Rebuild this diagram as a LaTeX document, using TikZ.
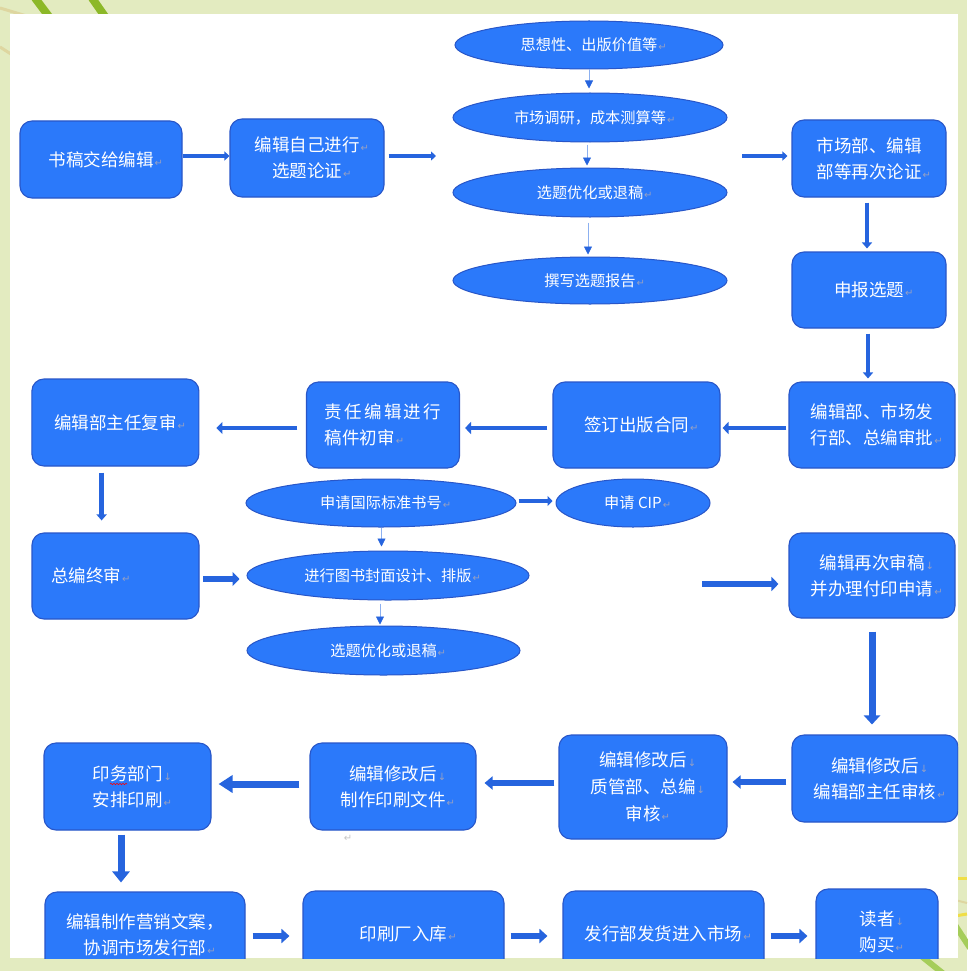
\documentclass[tikz,border=0pt]{standalone}
\usepackage{fontspec}
\newfontfamily\cjk{Noto Sans CJK SC}
\newfontfamily\mkfont{DejaVu Sans}
\usetikzlibrary{arrows.meta,shapes.geometric,calc,decorations.pathmorphing}
\definecolor{bg}{RGB}{227,235,192}
\definecolor{boxfill}{RGB}{43,121,250}
\definecolor{boxline}{RGB}{40,86,200}
\definecolor{arrblue}{RGB}{38,100,222}
\definecolor{thinline}{RGB}{140,176,240}
\definecolor{mkgray}{RGB}{150,160,195}
\definecolor{stem}{RGB}{140,184,40}
\definecolor{paleline}{RGB}{222,214,160}
\definecolor{yband}{RGB}{240,222,70}
\definecolor{lstem}{RGB}{165,205,90}
\newcommand\parmk{\rlap{\hspace{1pt}\mkfont\fontsize{10}{10}\selectfont\textcolor{mkgray}{↵}}}
\newcommand\dnmk{\rlap{\hspace{1pt}\mkfont\fontsize{10}{10}\selectfont\textcolor{mkgray}{↓}}}
\begin{document}
\begin{tikzpicture}[x=1pt,y=-1pt,
  box/.style={draw=boxline, line width=1.1pt, fill=boxfill, rounded corners=12pt, text=white, align=center, inner sep=0pt, font=\cjk\fontsize{17.5}{26}\selectfont},
  ell/.style={ellipse, draw=boxline, line width=1pt, fill=boxfill, text=white, inner sep=0pt, font=\cjk\fontsize{15.2}{20}\selectfont},
  thinarr/.style={draw=thinline, line width=0.7pt, -{Triangle[length=8pt,width=8pt,color=arrblue]}},
  blk/.style n args={3}{draw=arrblue, line width=#1, -{Triangle[length=#2,width=#3]}}
]
\useasboundingbox (0,0) rectangle (967,971);
\fill[bg] (0,0) rectangle (967,971);
% corner decorations
\draw[paleline, line width=3pt] (0,8) -- (40,20);
\draw[paleline, line width=3pt] (0,47) -- (14,56);
\draw[stem, line width=8pt] (35,-2) -- (50,18);
\draw[stem, line width=8pt] (92,-2) -- (106,18);
\draw[yband, line width=3pt] (955,878) -- (967,878);
\draw[yband, line width=3pt] (955,916) -- (967,914);
\draw[lstem, line width=6pt] (955,925) -- (970,948);
\draw[lstem, line width=6pt] (920,955) -- (945,975);
\draw[paleline, line width=2pt] (955,900) -- (967,903);
\fill[white] (10,14) rectangle (958,958);
\begin{scope}
\clip (10,14) rectangle (958,958);
% helper coordinates
\coordinate (r1) at (0,156);
\coordinate (c1) at (436,156);
\coordinate (c2) at (742,156);
\coordinate (v1) at (867,0);
\coordinate (v2) at (868,0);
\coordinate (r2) at (0,428);
\coordinate (v3) at (101.6,0);
\coordinate (r3) at (0,501);
\coordinate (r4) at (0,579);
\coordinate (c3) at (702,584);
\coordinate (v4) at (872,0);
\coordinate (r5) at (0,782);
\coordinate (r6) at (0,783);
\coordinate (r7) at (0,784);
\coordinate (v5) at (121,0);
\coordinate (r8) at (0,936);
\coordinate (t1) at (589,0);
\coordinate (t2) at (587,0);
\coordinate (t3) at (588,0);
\coordinate (t4) at (381.5,0);
\coordinate (t5) at (380,0);
% row 1
\node[box, minimum width=162pt, minimum height=77pt] (A) at (101,159.5) {书稿交给编辑\parmk};
\node[box, minimum width=154pt, minimum height=78pt] (B) at (307,158) {编辑自己进行\parmk\\选题论证\parmk};
\node[ell, minimum width=268pt, minimum height=48pt] (E1) at (589,45) {思想性、出版价值等\parmk};
\node[ell, minimum width=274pt, minimum height=49pt] (E2) at (590,117.5) {市场调研，成本测算等\parmk};
\node[ell, minimum width=274pt, minimum height=49pt] (E3) at (590,192.5) {选题优化或退稿\parmk};
\node[ell, minimum width=274pt, minimum height=47pt] (E4) at (590,280.5) {撰写选题报告\parmk};
\node[box, minimum width=154pt, minimum height=77pt] (C) at (869,158.5) {市场部、编辑\\部等再次论证\parmk};
\node[box, minimum width=154pt, minimum height=76pt] (D) at (869,290) {申报选题\parmk};
% row 2
\node[box, minimum width=166pt, minimum height=86pt] (E) at (872,425) {编辑部、市场发\\行部、总编审批\parmk};
\node[box, minimum width=167pt, minimum height=86pt] (F) at (636.5,425) {签订出版合同\parmk};
\node[box, align=left, minimum width=153pt, minimum height=86pt] (G) at (383,425) {责\hspace{2.3pt}任\hspace{2.3pt}编\hspace{2.3pt}辑\hspace{2.3pt}进\hspace{2.3pt}行\\稿件初审\parmk};
\node[box, minimum width=167pt, minimum height=87pt] (H) at (115.4,422.5) {编辑部主任复审\parmk};
\node[ell, minimum width=270pt, minimum height=48pt] (ISBN) at (381,503) {申请国际标准书号\parmk};
\node[ell, minimum width=154pt, minimum height=48pt] (CIP) at (633,503) {申请 CIP\parmk};
\node[ell, minimum width=282pt, minimum height=49pt] (DES) at (388,575.5) {进行图书封面设计、排版\parmk};
\node[ell, minimum width=273pt, minimum height=49pt] (OPT) at (383.5,650.5) {选题优化或退稿\parmk};
\node[box, align=left, inner xsep=19pt, text width=129pt, minimum height=86pt] (I) at (115.5,576) {总编终审\parmk};
\node[box, minimum width=166pt, minimum height=85pt] (J) at (872,575.5) {编辑再次审稿\dnmk\\并办理付印申请\parmk};
% row 3
\node[box, minimum width=166pt, minimum height=87pt] (K) at (875,778.5) {编辑修改后\dnmk\\编辑部主任审核\parmk};
\node[box, font=\cjk\fontsize{17.5}{27}\selectfont, minimum width=168pt, minimum height=104pt] (L) at (643,787) {编辑修改后\dnmk\\质管部、总编\dnmk\\审核\parmk};
\node[box, minimum width=166pt, minimum height=87pt] (M) at (393,786.5) {编辑修改后\dnmk\\制作印刷文件\parmk};
\node[box, minimum width=167pt, minimum height=87pt] (N) at (127.5,786.5) {印务部门\dnmk\\安排印刷\parmk};
\node[text=gray!45, font=\mkfont\fontsize{10}{10}\selectfont, inner sep=0pt] (stray) at (348,838) {↵};
\draw[red, line width=0.6pt, decorate, decoration={snake, amplitude=0.7pt, segment length=3pt}] (110,784) -- (127,784);
% row 4
\node[box, minimum width=200pt, minimum height=86pt] (O) at (145,935) {编辑制作营销文案，\\协调市场发行部\parmk};
\node[box, minimum width=201pt, minimum height=86pt] (P) at (403.5,934) {印刷厂入库\parmk};
\node[box, minimum width=201pt, minimum height=86pt] (Q) at (663.5,934) {发行部发货进入市场\parmk};
\node[box, minimum width=122pt, minimum height=86pt] (R) at (877,932) {读者\dnmk\\购买\parmk};
% arrows row 1
\draw[blk={3.5pt}{5pt}{9pt}] (A.east |- r1) -- (B.west |- r1);
\draw[blk={3.5pt}{5pt}{9pt}, shorten <=4pt] (B.east |- r1) -- (c1);
\draw[blk={3.5pt}{5pt}{9pt}, shorten >=4pt] (c2) -- (C.west |- c2);
\draw[thinarr, shorten >=4pt] (E1.south -| t1) -- (E2.north -| t1);
\draw[thinarr, shorten <=2pt, shorten >=2pt] (E2.south -| t2) -- (E3.north -| t2);
\draw[thinarr, shorten <=5pt, shorten >=2pt] (E3.south -| t3) -- (E4.north -| t3);
\draw[blk={4pt}{6pt}{10pt}, shorten <=5pt, shorten >=3pt] (C.south -| v1) -- (D.north -| v1);
\draw[blk={4pt}{6pt}{10pt}, shorten <=5pt, shorten >=3pt] (D.south -| v2) -- (E.north -| v2);
% arrows row 2
\draw[blk={4.5pt}{6pt}{12pt}, shorten <=2pt, shorten >=2pt] (E.west |- r2) -- (F.east |- r2);
\draw[blk={4.5pt}{6pt}{12pt}, shorten <=5pt, shorten >=5pt] (F.west |- r2) -- (G.east |- r2);
\draw[blk={4.5pt}{6pt}{12pt}, shorten <=8.5pt, shorten >=17pt] (G.west |- r2) -- (H.east |- r2);
\draw[blk={4.5pt}{6pt}{10pt}, shorten <=6pt, shorten >=12pt] (H.south -| v3) -- (I.north -| v3);
\draw[blk={4.5pt}{5pt}{10pt}, shorten <=2pt, shorten >=3pt] (ISBN.east |- r3) -- (CIP.west |- r3);
\draw[thinarr, shorten >=4pt] (ISBN.south -| t4) -- (DES.north -| t4);
\draw[thinarr, shorten <=3pt, shorten >=1pt] (DES.south -| t5) -- (OPT.north -| t5);
\draw[blk={6pt}{7pt}{14pt}, shorten <=3.5pt, shorten >=7pt] (I.east |- r4) -- (DES.west |- r4);
\draw[blk={6pt}{7pt}{14pt}, shorten >=10pt] (c3) -- (J.west |- c3);
\draw[blk={7pt}{9pt}{16pt}, shorten <=13pt, shorten >=10pt] (J.south -| v4) -- (K.north -| v4);
% arrows row 3
\draw[blk={5.5pt}{8pt}{13pt}, shorten <=5pt, shorten >=5pt] (K.west |- r5) -- (L.east |- r5);
\draw[blk={5.5pt}{8pt}{13pt}, shorten <=4pt, shorten >=8pt] (L.west |- r6) -- (M.east |- r6);
\draw[blk={7pt}{14pt}{17pt}, shorten <=10pt, shorten >=7pt] (M.west |- r7) -- (N.east |- r7);
\draw[blk={7pt}{11pt}{17pt}, shorten <=4pt, shorten >=9pt] (N.south -| v5) -- (O.north -| v5);
% arrows row 4
\draw[blk={6pt}{8pt}{14pt}, shorten <=7pt, shorten >=13pt] (O.east |- r8) -- (P.west |- r8);
\draw[blk={6pt}{8pt}{14pt}, shorten <=6pt, shorten >=15pt] (P.east |- r8) -- (Q.west |- r8);
\draw[blk={6pt}{8pt}{14pt}, shorten <=6pt, shorten >=8pt] (Q.east |- r8) -- (R.west |- r8);
\end{scope}
\end{tikzpicture}
\end{document}
